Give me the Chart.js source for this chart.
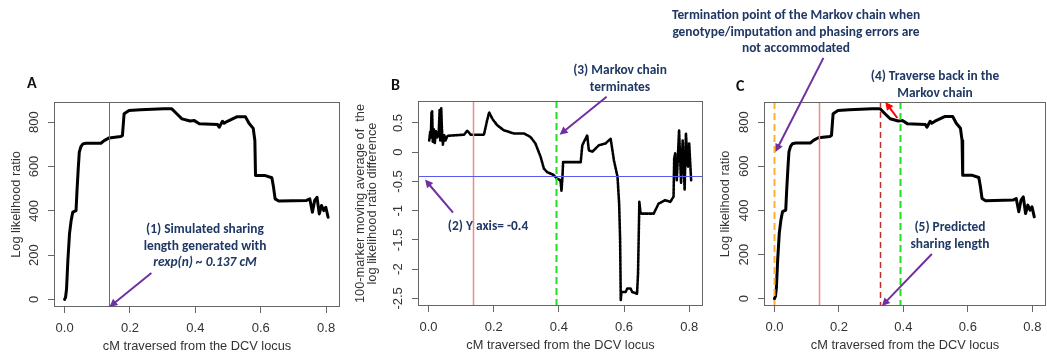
<!DOCTYPE html>
<html lang="en">
<head>
  <meta charset="UTF-8">
  <title>Markov chain sharing length</title>
  <script src="https://cdn.jsdelivr.net/npm/chart.js"></script>
  <style>
    body {
      margin: 0;
      width: 1047px;
      height: 359px;
      background: #fff;
      position: relative;
      overflow: hidden;
      font-family: "Liberation Sans", Arial, sans-serif;
    }
    .panel {
      position: absolute;
      top: 0;
      height: 359px;
    }
    .note {
      position: absolute;
      font-family: Carlito, Calibri, Lato, sans-serif;
      font-weight: bold;
      font-size: 13.4px;
      line-height: 16.5px;
      color: #1f3864;
      text-align: center;
      white-space: nowrap;
      transform: translateX(-50%);
    }
    .tag {
      position: absolute;
      font-family: Carlito, Calibri, Lato, sans-serif;
      font-weight: bold;
      font-size: 16px;
      color: #111;
    }
  </style>
</head>
<body>
  <div class="panel" style="left:0;width:350px"><canvas id="chartA"></canvas></div>
  <div class="panel" style="left:350px;width:355px"><canvas id="chartB"></canvas></div>
  <div class="panel" style="left:705px;width:342px"><canvas id="chartC"></canvas></div>

  <div class="tag" style="left:27px;top:73px">A</div>
  <div class="tag" style="left:391px;top:75px">B</div>
  <div class="tag" style="left:736px;top:76px">C</div>

  <div class="note" style="left:205px;top:221px">(1) Simulated sharing<br>length generated with<br><i>rexp(n) ~ 0.137 cM</i></div>
  <div class="note" style="left:488px;top:218px">(2) Y axis= -0.4</div>
  <div class="note" style="left:620px;top:62px">(3) Markov chain<br>terminates</div>
  <div class="note" style="left:796px;top:7px">Termination point of the Markov chain when<br>genotype/imputation and phasing errors are<br>not accommodated</div>
  <div class="note" style="left:935px;top:68px">(4) Traverse back in the<br>Markov chain</div>
  <div class="note" style="left:950px;top:219px">(5) Predicted<br>sharing length</div>

  <script>
    // x ticks shared by all three panels
    const xTicks = [0, 0.2, 0.4, 0.6, 0.8];
    const xTickLabels = ['0.0', '0.2', '0.4', '0.6', '0.8'];
    const llrTicks = [0, 200, 400, 600, 800];
    const mavgTicks = [0.5, 0, -0.5, -1, -1.5, -2, -2.5];
    const mavgTickLabels = ['0.5', '0', '-0.5', '-1', '-1.5', '-2', '-2.5'];

    // log likelihood ratio (panels A and C)
    const llrX = [0, 0.003, 0.006, 0.010, 0.015, 0.020, 0.025, 0.035, 0.038, 0.042, 0.045, 0.050, 0.056, 0.066,
      0.111, 0.121, 0.136, 0.172, 0.177, 0.182, 0.197, 0.232, 0.303, 0.328, 0.343, 0.359, 0.384, 0.397, 0.412,
      0.468, 0.473, 0.483, 0.488, 0.498, 0.528, 0.553, 0.564, 0.577, 0.582, 0.584, 0.614, 0.634, 0.639, 0.644,
      0.655, 0.740, 0.750, 0.758, 0.765, 0.772, 0.779, 0.786, 0.793, 0.799, 0.806];
    const llrY = [0, 10, 48, 176, 296, 356, 394, 401, 492, 597, 665, 690, 702, 705,
      705, 717, 729, 735, 740, 838, 853, 856, 860, 860, 838, 815, 805, 807, 793,
      789, 777, 804, 795, 804, 825, 825, 795, 772, 717, 559, 559, 549, 507, 454,
      444, 447, 454, 394, 447, 461, 386, 424, 401, 416, 371];

    // 100-marker moving average of the LLR difference (panel B)
    const mavgX = [0.002, 0.005, 0.007, 0.009, 0.011, 0.013, 0.016, 0.019, 0.023, 0.027, 0.031, 0.034, 0.036,
      0.039, 0.041, 0.044, 0.048, 0.052, 0.058, 0.109, 0.119, 0.129, 0.170, 0.180, 0.186, 0.196, 0.211, 0.231,
      0.262, 0.293, 0.313, 0.328, 0.344, 0.354, 0.364, 0.384, 0.394, 0.405, 0.408, 0.411, 0.413, 0.467, 0.472,
      0.487, 0.492, 0.503, 0.523, 0.543, 0.559, 0.569, 0.580, 0.585, 0.588, 0.590, 0.592, 0.605, 0.610, 0.620,
      0.625, 0.640, 0.643, 0.647, 0.651, 0.691, 0.706, 0.726, 0.742, 0.752, 0.754, 0.757, 0.762, 0.769, 0.775,
      0.780, 0.786, 0.790, 0.796, 0.800, 0.806];
    const mavgY = [0.20, 0.35, 0.25, 0.68, 0.70, 0.18, 0.40, 0.15, 0.36, 0.25, 0.30, 0.72, 0.20,
      0.75, 0.40, 0.13, 0.30, 0.20, 0.28, 0.30, 0.37, 0.30, 0.30, 0.55, 0.68, 0.57, 0.46, 0.375,
      0.32, 0.32, 0.26, 0.15, -0.08, -0.28, -0.34, -0.39, -0.45, -0.48, -0.66, -0.42, -0.17, -0.17, 0.12,
      0.29, 0.03, 0.01, 0.12, 0.15, 0.23, -0.14, -0.42, -0.88, -1.5, -2.53, -2.39, -2.39, -2.33, -2.33,
      -2.39, -2.42, -2.07, -0.85, -1.05, -1.05, -0.88, -0.82, -0.85, -0.76, -0.11, -0.02, -0.48, 0.375, -0.52,
      0.20, -0.64, 0.32, -0.25, 0.15, -0.48];

    // reference positions
    const simulatedLen = 0.137;
    const terminateAt = 0.39;
    const predictedLen = 0.327;
    const threshold = -0.4;

    const pts = (xs, ys) => xs.map((x, i) => ({ x: x, y: ys[i] }));

    // box, rotated R-style tick labels, titles, reference lines and arrows
    const decor = {
      id: 'decor',
      afterDatasetsDraw(chart, args, o) {
        const ctx = chart.ctx, ca = chart.chartArea;
        const xs = chart.scales.x, ys = chart.scales.y;
        ctx.save();
        ctx.beginPath();
        ctx.rect(ca.left, ca.top, ca.right - ca.left, ca.bottom - ca.top);
        ctx.clip();
        (o.vlines || []).forEach(l => {
          const px = Math.round(xs.getPixelForValue(l.x)) + 0.5;
          ctx.strokeStyle = l.color;
          ctx.lineWidth = l.width;
          ctx.setLineDash(l.dash || []);
          ctx.beginPath();
          ctx.moveTo(px, ca.top);
          ctx.lineTo(px, ca.bottom);
          ctx.stroke();
        });
        (o.hlines || []).forEach(l => {
          const py = Math.round(ys.getPixelForValue(l.y)) + 0.5;
          ctx.strokeStyle = l.color;
          ctx.lineWidth = l.width;
          ctx.setLineDash(l.dash || []);
          ctx.beginPath();
          ctx.moveTo(ca.left, py);
          ctx.lineTo(ca.right, py);
          ctx.stroke();
        });
        ctx.restore();
      },
      afterDraw(chart, args, o) {
        const ctx = chart.ctx, ca = chart.chartArea;
        const xs = chart.scales.x, ys = chart.scales.y;
        ctx.save();
        ctx.strokeStyle = '#666';
        ctx.lineWidth = 1;
        ctx.setLineDash([]);
        ctx.strokeRect(ca.left + 0.5, ca.top + 0.5, ca.right - ca.left - 1, ca.bottom - ca.top - 1);

        ctx.fillStyle = '#333';
        ctx.font = '13px "Liberation Sans", Arial, sans-serif';
        ctx.textAlign = 'center';
        ctx.textBaseline = 'middle';
        xTicks.forEach((v, i) => {
          ctx.fillText(xTickLabels[i], xs.getPixelForValue(v), ca.bottom + 21);
        });
        o.yTicks.forEach((v, i) => {
          ctx.save();
          ctx.translate(ca.left - 20, ys.getPixelForValue(v));
          ctx.rotate(-Math.PI / 2);
          ctx.fillText(o.yLabels[i], 0, 0);
          ctx.restore();
        });
        ctx.font = '12.8px "Liberation Sans", Arial, sans-serif';
        ctx.fillText('cM traversed from the DCV locus', (ca.left + ca.right) / 2, ca.bottom + 39);
        const midY = (ca.top + ca.bottom) / 2;
        o.yTitle.forEach((t, i) => {
          ctx.save();
          ctx.translate(o.yTitleX[i], midY);
          ctx.rotate(-Math.PI / 2);
          ctx.fillText(t, 0, 0);
          ctx.restore();
        });

        (o.arrows || []).forEach(a => {
          const tx = (a.x === 'left' ? ca.left : xs.getPixelForValue(a.x)) + (a.ox || 0);
          const ty = (a.y === 'bottom' ? ca.bottom : a.y === 'top' ? ca.top : ys.getPixelForValue(a.y)) + (a.oy || 0);
          const fx = tx + a.dx, fy = ty + a.dy;
          const ang = Math.atan2(ty - fy, tx - fx);
          const hl = 8, hw = 4;
          ctx.strokeStyle = a.color;
          ctx.fillStyle = a.color;
          ctx.lineWidth = 2;
          ctx.beginPath();
          ctx.moveTo(fx, fy);
          ctx.lineTo(tx - Math.cos(ang) * hl * 0.8, ty - Math.sin(ang) * hl * 0.8);
          ctx.stroke();
          ctx.beginPath();
          ctx.moveTo(tx, ty);
          ctx.lineTo(tx - Math.cos(ang) * hl - Math.sin(ang) * hw, ty - Math.sin(ang) * hl + Math.cos(ang) * hw);
          ctx.lineTo(tx - Math.cos(ang) * hl + Math.sin(ang) * hw, ty - Math.sin(ang) * hl - Math.cos(ang) * hw);
          ctx.closePath();
          ctx.fill();
        });
        ctx.restore();
      }
    };

    function makeChart(id, cfg) {
      return new Chart(document.getElementById(id), {
        type: 'line',
        data: {
          datasets: [{
            data: cfg.data,
            borderColor: '#000',
            borderWidth: cfg.lineWidth,
            borderDash: cfg.dash || [],
            borderJoinStyle: 'round',
            borderCapStyle: 'round',
            pointRadius: 0,
            tension: 0
          }]
        },
        options: {
          responsive: true,
          maintainAspectRatio: false,
          animation: false,
          devicePixelRatio: 1,
          layout: { padding: { top: cfg.top, right: cfg.right, left: 0, bottom: 0 } },
          plugins: {
            legend: { display: false },
            tooltip: { enabled: false },
            decor: cfg.decor
          },
          scales: {
            x: {
              type: 'linear',
              min: -0.0324,
              max: 0.8424,
              afterBuildTicks: s => { s.ticks = xTicks.map(v => ({ value: v })); },
              afterFit: s => { s.height = cfg.xHeight; },
              ticks: { display: false },
              border: { display: false },
              grid: { drawOnChartArea: false, tickLength: 6, color: '#666' }
            },
            y: {
              type: 'linear',
              min: cfg.yMin,
              max: cfg.yMax,
              afterBuildTicks: s => { s.ticks = cfg.decor.yTicks.map(v => ({ value: v })); },
              afterFit: s => { s.width = cfg.yWidth; },
              ticks: { display: false },
              border: { display: false },
              grid: { drawOnChartArea: false, tickLength: 6, color: '#666' }
            }
          }
        },
        plugins: [decor]
      });
    }

    makeChart('chartA', {
      data: pts(llrX, llrY), lineWidth: 3,
      top: 102, right: 10, xHeight: 52, yWidth: 54, yMin: -34, yMax: 891,
      decor: {
        yTicks: llrTicks, yLabels: llrTicks.map(String),
        yTitle: ['Log likelihood ratio'], yTitleX: [16],
        vlines: [{ x: simulatedLen, color: '#e8392e', width: 1 }],
        arrows: [{ x: simulatedLen, y: 'bottom', dx: 42, dy: -34, color: '#7030a0' }]
      }
    });

    makeChart('chartB', {
      data: pts(mavgX, mavgY), lineWidth: 2.6, dash: [2.5, 1.2],
      top: 101, right: 2, xHeight: 53, yWidth: 68, yMin: -2.63, yMax: 0.876,
      decor: {
        yTicks: mavgTicks, yLabels: mavgTickLabels,
        yTitle: ['100-marker moving average of  the', 'log likelihood ratio difference'], yTitleX: [10, 22],
        vlines: [
          { x: simulatedLen, color: '#f28a84', width: 1.5 },
          { x: terminateAt, color: '#22dd22', width: 2, dash: [7, 4] }
        ],
        hlines: [{ y: threshold, color: '#5a5af0', width: 1 }],
        arrows: [
          { x: 'left', y: threshold, ox: 7, oy: 4, dx: 28, dy: 33, color: '#7030a0' },
          { x: terminateAt, y: 0.3, ox: 4, dx: 47, dy: -38, color: '#7030a0' }
        ]
      }
    });

    makeChart('chartC', {
      data: pts(llrX, llrY), lineWidth: 3,
      top: 102, right: 1, xHeight: 53, yWidth: 59, yMin: -33, yMax: 891,
      decor: {
        yTicks: llrTicks, yLabels: llrTicks.map(String),
        yTitle: ['Log likelihood ratio'], yTitleX: [20],
        vlines: [
          { x: 0, color: '#ffb030', width: 2, dash: [7, 4] },
          { x: simulatedLen, color: '#f28a84', width: 1.5 },
          { x: predictedLen, color: '#c0302a', width: 1.5, dash: [6, 4] },
          { x: terminateAt, color: '#22dd22', width: 2, dash: [7, 4] }
        ],
        arrows: [
          { x: 0, y: 665, ox: 1, dx: 48, dy: -94, color: '#7030a0' },
          { x: 0.344, y: 'top', dx: 12, dy: 16, color: '#ff0000' },
          { x: predictedLen, y: 'bottom', ox: 2, dx: 50, dy: -52, color: '#7030a0' }
        ]
      }
    });
  </script>
</body>
</html>
